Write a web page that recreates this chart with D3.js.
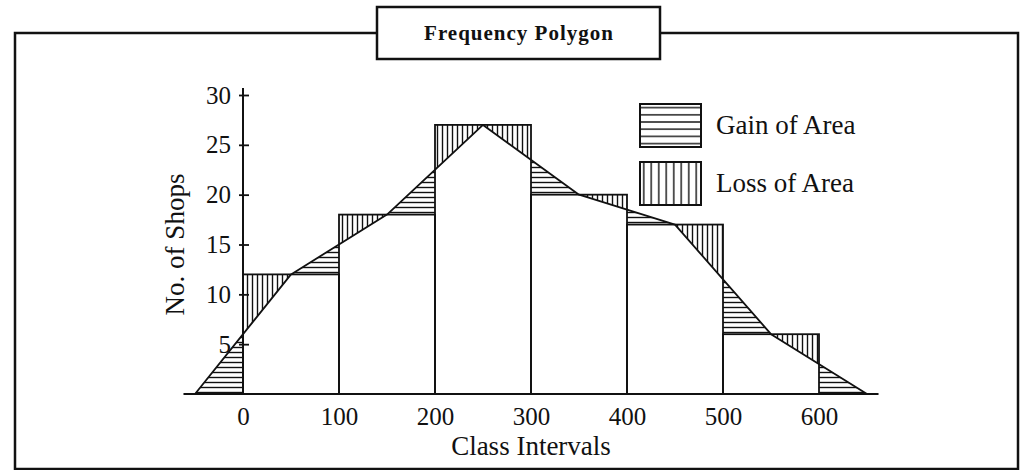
<!DOCTYPE html>
<html>
<head>
<meta charset="utf-8">
<script src="https://cdn.jsdelivr.net/npm/d3@7"></script>
<style>
  html, body { margin: 0; padding: 0; background: #fff; }
  svg { display: block; font-family: 'Liberation Serif', 'Times New Roman', serif; }
</style>
</head>
<body>
<div id="chart"></div>
<script>
// class intervals (lower bound) and frequencies
const classStarts = [0, 100, 200, 300, 400, 500];
const shops = [12, 18, 27, 20, 17, 6];
const classWidth = 100;

const xTicks = [0, 100, 200, 300, 400, 500, 600];
const yTicks = [5, 10, 15, 20, 25, 30];

const legendLabels = ['Gain of Area', 'Loss of Area'];

const ink = '#111';

const svg = d3.select('#chart')
    .append('svg')
    .attr('width', 1034)
    .attr('height', 470);

const x = d3.scaleLinear().domain([0, 600]).range([243, 819]);
const y = d3.scaleLinear().domain([0, 30]).range([394, 95]);

// hatch patterns (line drawn through the middle of each tile)
const defs = svg.append('defs');
function hatch(id, step, vertical) {
    const p = defs.append('pattern')
        .attr('id', id)
        .attr('patternUnits', 'userSpaceOnUse')
        .attr('width', vertical ? step : 10)
        .attr('height', vertical ? 10 : step);
    p.append('line')
        .attr('x1', vertical ? step / 2 : 0)
        .attr('y1', vertical ? 0 : step / 2)
        .attr('x2', vertical ? step / 2 : 10)
        .attr('y2', vertical ? 10 : step / 2)
        .attr('stroke', ink)
        .attr('stroke-width', 1.4);
}
hatch('gain', 5, false);
hatch('loss', 5, true);
hatch('gainLegend', 7.2, false);
hatch('lossLegend', 7.5, true);

// outer frame + title box
svg.append('rect')
    .attr('x', 15).attr('y', 33)
    .attr('width', 1003).attr('height', 436)
    .attr('fill', 'none')
    .attr('stroke', ink)
    .attr('stroke-width', 2.5);

svg.append('rect')
    .attr('x', 377).attr('y', 7)
    .attr('width', 283).attr('height', 52)
    .attr('fill', '#fff')
    .attr('stroke', ink)
    .attr('stroke-width', 2.5);

svg.append('text')
    .attr('x', 519).attr('y', 40)
    .attr('text-anchor', 'middle')
    .attr('font-size', 21)
    .attr('font-weight', 'bold')
    .attr('letter-spacing', 1)
    .attr('fill', ink)
    .text('Frequency Polygon');

// gain / loss triangles between histogram and polygon
const half = classWidth / 2;
const triangles = [];
classStarts.forEach((a, i) => {
    const h = shops[i];
    const hp = i > 0 ? shops[i - 1] : 0;
    const hn = i < shops.length - 1 ? shops[i + 1] : 0;
    const mL = (hp + h) / 2;
    const mR = (h + hn) / 2;
    if (mL !== h) {
        triangles.push({ pts: [[a, mL], [a, h], [a + half, h]], type: mL < h ? 'loss' : 'gain' });
    }
    if (mR !== h) {
        triangles.push({ pts: [[a + half, h], [a + classWidth, h], [a + classWidth, mR]], type: mR < h ? 'loss' : 'gain' });
    }
});
const first = classStarts[0];
const last = classStarts[classStarts.length - 1] + classWidth;
triangles.push({ pts: [[first - half, 0], [first, 0], [first, shops[0] / 2]], type: 'gain' });
triangles.push({ pts: [[last, 0], [last + half, 0], [last, shops[shops.length - 1] / 2]], type: 'gain' });

svg.append('g')
    .selectAll('path')
    .data(triangles)
    .join('path')
    .attr('d', (d) => 'M' + d.pts.map((p) => x(p[0]) + ',' + y(p[1])).join('L') + 'Z')
    .attr('fill', (d) => 'url(#' + d.type + ')')
    .attr('stroke', 'none');

// histogram bars
svg.append('g')
    .selectAll('rect')
    .data(classStarts)
    .join('rect')
    .attr('x', (d) => x(d))
    .attr('y', (d, i) => y(shops[i]))
    .attr('width', (d) => x(d + classWidth) - x(d))
    .attr('height', (d, i) => y(0) - y(shops[i]))
    .attr('fill', 'none')
    .attr('stroke', ink)
    .attr('stroke-width', 1.8);

// frequency polygon
const polyPoints = [[first - half, 0]]
    .concat(classStarts.map((a, i) => [a + half, shops[i]]))
    .concat([[last + half, 0]]);

svg.append('path')
    .datum(polyPoints)
    .attr('fill', 'none')
    .attr('stroke', ink)
    .attr('stroke-width', 1.8)
    .attr('stroke-linejoin', 'round')
    .attr('d', d3.line().x((d) => x(d[0])).y((d) => y(d[1])));

// axes
svg.append('line')
    .attr('x1', x(-62)).attr('x2', x(662))
    .attr('y1', y(0)).attr('y2', y(0))
    .attr('stroke', ink)
    .attr('stroke-width', 2);

svg.append('line')
    .attr('x1', x(0)).attr('x2', x(0))
    .attr('y1', y(0)).attr('y2', y(30.7))
    .attr('stroke', ink)
    .attr('stroke-width', 2);

const yAxis = svg.append('g')
    .attr('transform', 'translate(' + x(0) + ',0)')
    .call(d3.axisLeft(y).tickValues(yTicks).tickSize(-6).tickPadding(12));
yAxis.select('.domain').remove();
yAxis.selectAll('line')
    .attr('x1', -4).attr('x2', 6)
    .attr('stroke', ink)
    .attr('stroke-width', 1.8);
yAxis.selectAll('text')
    .attr('x', -12)
    .attr('font-family', 'Liberation Serif')
    .attr('font-size', 25)
    .attr('fill', ink);

const xAxis = svg.append('g')
    .attr('transform', 'translate(0,' + y(0) + ')')
    .call(d3.axisBottom(x).tickValues(xTicks).tickSize(0).tickPadding(13));
xAxis.select('.domain').remove();
xAxis.selectAll('text')
    .attr('font-family', 'Liberation Serif')
    .attr('font-size', 25)
    .attr('fill', ink);

svg.append('text')
    .attr('x', x(300)).attr('y', 455)
    .attr('text-anchor', 'middle')
    .attr('font-size', 27)
    .attr('fill', ink)
    .text('Class Intervals');

svg.append('text')
    .attr('transform', 'translate(184,' + y(15) + ') rotate(-90)')
    .attr('text-anchor', 'middle')
    .attr('font-size', 27)
    .attr('fill', ink)
    .text('No. of Shops');

// legend
const legend = svg.append('g')
    .selectAll('g')
    .data(legendLabels)
    .join('g')
    .attr('transform', (d, i) => 'translate(640,' + (104 + i * 58) + ')');

legend.append('rect')
    .attr('width', 61).attr('height', 43)
    .attr('fill', (d, i) => i === 0 ? 'url(#gainLegend)' : 'url(#lossLegend)')
    .attr('stroke', ink)
    .attr('stroke-width', 2);

legend.append('text')
    .attr('x', 76).attr('y', 30)
    .attr('font-size', 27)
    .attr('fill', ink)
    .text((d) => d);
</script>
</body>
</html>
